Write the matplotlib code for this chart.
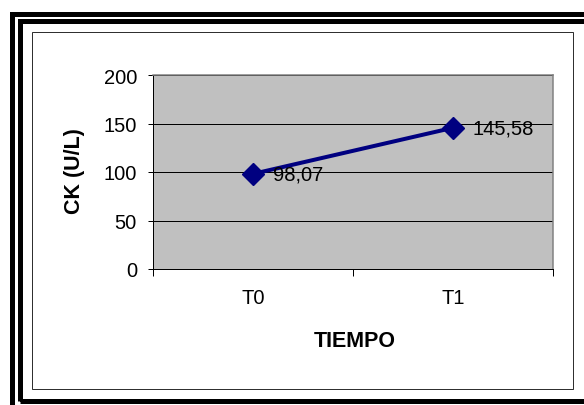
import matplotlib
matplotlib.use("Agg")
from matplotlib import pyplot as plt
from matplotlib.patches import Rectangle

plt.rcParams["font.family"] = ["Liberation Sans", "DejaVu Sans"]

categories = ["T0", "T1"]
ck_values = [98.07, 145.58]
y_ticks = [0, 50, 100, 150, 200]

W, H = 584, 406
DPI = 100
PX = 72 / DPI  # points per pixel

fig = plt.figure(figsize=(W / DPI, H / DPI), dpi=DPI)
fig.patch.set_facecolor("white")


def frame(x0, y0, x1, y1, lw_px, color="black"):
    # rectangle given in image pixel coords (origin top-left)
    r = Rectangle((x0 / W, 1 - y1 / H), (x1 - x0) / W, (y1 - y0) / H,
                  transform=fig.transFigure, fill=False, edgecolor=color,
                  linewidth=lw_px * PX, joinstyle="miter")
    fig.add_artist(r)


# double thick border (cut off at right / bottom) and the thin inner box
frame(11.5, 14.5, 620, 440, 5)
frame(19.5, 22, 620, 401.5, 5)
frame(32, 33, 573, 390, 1, "#303030")

# plot area in pixels: x 153..553, y 76..270
ax = fig.add_axes([153 / W, 1 - 270 / H, 400 / W, 194 / H])
ax.set_facecolor("#C0C0C0")

x = list(range(len(categories)))
ax.plot(x, ck_values, color="#000080", linewidth=4 * PX, marker="D",
        markersize=11, markerfacecolor="#000080", markeredgecolor="#000080",
        zorder=3, clip_on=False)

for xi, v in zip(x, ck_values):
    ax.annotate(f"{v:.2f}".replace(".", ","), (xi, v), xytext=(20 * PX, 0),
                textcoords="offset points", ha="left", va="center",
                fontsize=14.5, color="black", zorder=4)

ax.set_xlim(-0.5, len(categories) - 0.5)
ax.set_ylim(0, 200)
ax.set_yticks(y_ticks)
ax.yaxis.grid(True, color="black", linewidth=1 * PX)
ax.set_axisbelow(True)

# category boundaries get the tick marks, labels sit in between
ax.set_xticks([i - 0.5 for i in range(len(categories) + 1)])
ax.set_xticklabels([])
ax.set_xticks(x, minor=True)
ax.set_xticklabels(categories, minor=True)
ax.tick_params(axis="x", which="major", direction="out", length=7 * PX,
               width=1 * PX, color="black")
ax.tick_params(axis="x", which="minor", length=0, pad=13.5, labelsize=14.5)
ax.tick_params(axis="y", direction="out", length=5 * PX, width=1 * PX,
               pad=8, labelsize=14.5)

for side in ("top", "right"):
    ax.spines[side].set_color("#808080")
    ax.spines[side].set_linewidth(1.5 * PX)
for side in ("left", "bottom"):
    ax.spines[side].set_color("black")
    ax.spines[side].set_linewidth(1 * PX)

ax.set_ylabel("CK (U/L)", fontsize=15.5, fontweight="bold")
ax.yaxis.set_label_coords(-0.17, 0.51)
ax.set_xlabel("TIEMPO", fontsize=15.5, fontweight="bold")
ax.xaxis.set_label_coords(0.505, -0.314)

fig.savefig("out.png", dpi=DPI)
